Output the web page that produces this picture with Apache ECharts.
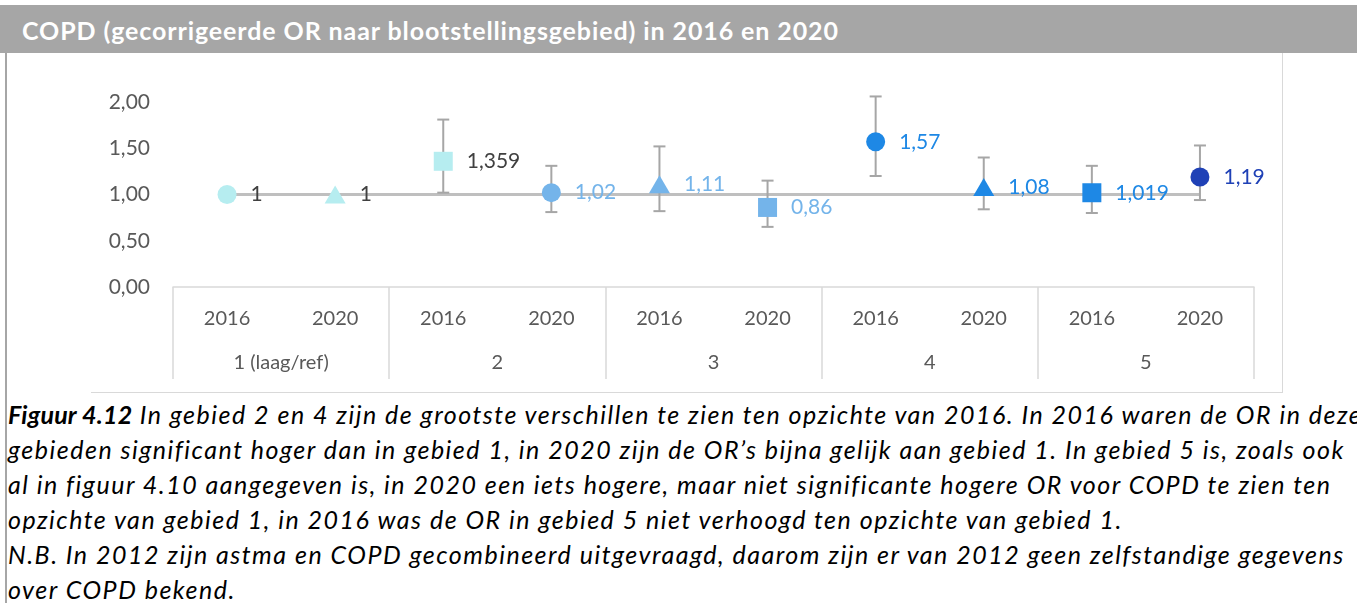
<!DOCTYPE html>
<html>
<head>
<meta charset="utf-8">
<script src="https://cdn.jsdelivr.net/npm/echarts@6/dist/echarts.min.js"></script>
<style>
  html, body { margin: 0; padding: 0; background: #ffffff; width: 1357px; height: 603px; overflow: hidden; font-family: Lato, "Open Sans", sans-serif; }
  #titlebar { position: absolute; left: 0; top: 5px; width: 1357px; height: 48px; background: #a6a6a6; }
  #title { position: absolute; left: 22px; top: 5px; height: 48px; line-height: 50px; color: #ffffff; font-weight: bold; font-size: 25px; letter-spacing: 0.9px; white-space: nowrap; }
  #leftborder { position: absolute; left: 5px; top: 53px; width: 2px; height: 550px; background: #a6a6a6; }
  #chart { position: absolute; left: 91px; top: 53px; width: 1192px; height: 340px; box-sizing: border-box; border-right: 1px solid #d9d9d9; border-bottom: 1px solid #d9d9d9; }
  #caption { position: absolute; left: 8px; top: 397px; width: 1600px; font-style: italic; font-size: 25px; letter-spacing: 1.5px; line-height: 35px; color: #000; white-space: nowrap; }
  #caption div { white-space: nowrap; }
  #caption b { letter-spacing: 0.2px; }
</style>
</head>
<body>
<div id="titlebar"></div>
<div id="title">COPD (gecorrigeerde OR naar blootstellingsgebied) in 2016 en 2020</div>
<div id="leftborder"></div>
<div id="chart"></div>
<div id="caption">
  <div><b>Figuur 4.12</b> In gebied 2 en 4 zijn de grootste verschillen te zien ten opzichte van 2016. In 2016 waren de OR in deze</div>
  <div>gebieden significant hoger dan in gebied 1, in 2020 zijn de OR’s bijna gelijk aan gebied 1. In gebied 5 is, zoals ook</div>
  <div>al in figuur 4.10 aangegeven is, in 2020 een iets hogere, maar niet significante hogere OR voor COPD te zien ten</div>
  <div>opzichte van gebied 1, in 2016 was de OR in gebied 5 niet verhoogd ten opzichte van gebied 1.</div>
  <div>N.B. In 2012 zijn astma en COPD gecombineerd uitgevraagd, daarom zijn er van 2012 geen zelfstandige gegevens</div>
  <div>over COPD bekend.</div>
</div>
<script>
// ---- data ----
const years = ['2016', '2020', '2016', '2020', '2016', '2020', '2016', '2020', '2016', '2020'];
const areas = ['1 (laag/ref)', '2', '3', '4', '5'];
const orValues = [1, 1, 1.359, 1.02, 1.11, 0.86, 1.57, 1.08, 1.019, 1.19];
const ciLow  = [null, null, 1.02, 0.81, 0.82, 0.65, 1.20, 0.84, 0.80, 0.94];
const ciHigh = [null, null, 1.81, 1.31, 1.52, 1.15, 2.06, 1.40, 1.31, 1.53];
const refLine = [1, 1, 1, 1, 1, 1, 1, 1, 1, 1];
const yTicks = [0, 0.5, 1, 1.5, 2];

// ---- styles ----
const markerShapes = ['circle', 'triangle', 'rect', 'circle', 'triangle', 'rect', 'circle', 'triangle', 'rect', 'circle'];
const markerColors = ['#b6edf0', '#b6edf0', '#b6edf0', '#74b4ea', '#74b4ea', '#74b4ea', '#1e88e5', '#1e88e5', '#1e88e5', '#1f41b6'];
const labelColors  = ['#404040', '#404040', '#404040', '#74b4ea', '#74b4ea', '#74b4ea', '#1e88e5', '#1e88e5', '#1e88e5', '#1f41b6'];
const markerSizes  = [[19, 19], [21, 18], [19, 19], [19, 19], [21, 18], [19, 19], [19, 19], [21, 18], [19, 19], [19, 19]];

const FONT = 'Lato, "Open Sans", sans-serif';
const chart = echarts.init(document.getElementById('chart'), null, { renderer: 'canvas' });

const scatterData = orValues.map((v, i) => ({
  value: [i, v],
  symbol: markerShapes[i],
  symbolSize: markerSizes[i],
  itemStyle: { color: markerColors[i], opacity: 1 },
  label: { color: labelColors[i] }
}));

const errData = [];
orValues.forEach((v, i) => { if (ciLow[i] != null) errData.push([i, ciLow[i], ciHigh[i]]); });

chart.setOption({
  animation: false,
  backgroundColor: '#ffffff',
  grid: { left: 82, right: 28, top: 49, bottom: 105, containLabel: false },
  xAxis: [
    {
      type: 'category',
      data: years,
      position: 'bottom',
      axisLine: { show: true, lineStyle: { color: '#d9d9d9', width: 1.5 } },
      axisTick: { show: false },
      axisLabel: { interval: 0, color: '#595959', fontSize: 20, fontFamily: FONT, margin: 22 },
      splitLine: { show: false }
    },
    {
      type: 'category',
      data: areas,
      position: 'bottom',
      axisLine: { show: false },
      axisTick: { show: true, length: 92, lineStyle: { color: '#d9d9d9', width: 1.5 } },
      axisLabel: { interval: 0, color: '#595959', fontSize: 20, fontFamily: FONT, margin: 66 },
      splitLine: { show: false }
    }
  ],
  yAxis: {
    type: 'value',
    min: yTicks[0],
    max: yTicks[yTicks.length - 1],
    interval: 0.5,
    axisLine: { show: false },
    axisTick: { show: false },
    splitLine: { show: false },
    axisLabel: {
      color: '#595959', fontSize: 21, fontFamily: FONT, margin: 23,
      formatter: v => v.toFixed(2).replace('.', ',')
    }
  },
  series: [
    {
      type: 'line',
      data: refLine,
      symbol: 'none',
      lineStyle: { color: '#bfbfbf', width: 3 },
      z: 1,
      silent: true
    },
    {
      type: 'custom',
      data: errData,
      z: 2,
      clip: false,
      renderItem: function (params, api) {
        const x = api.coord([api.value(0), api.value(1)])[0];
        const yLo = api.coord([api.value(0), api.value(1)])[1];
        const yHi = api.coord([api.value(0), api.value(2)])[1];
        const hw = 6;
        const style = { stroke: '#a6a6a6', lineWidth: 2 };
        return {
          type: 'group',
          children: [
            { type: 'line', shape: { x1: x, y1: yLo, x2: x, y2: yHi }, style: style },
            { type: 'line', shape: { x1: x - hw, y1: yLo, x2: x + hw, y2: yLo }, style: style },
            { type: 'line', shape: { x1: x - hw, y1: yHi, x2: x + hw, y2: yHi }, style: style }
          ]
        };
      }
    },
    {
      type: 'scatter',
      data: scatterData,
      z: 3,
      label: {
        show: true,
        position: 'right',
        distance: 14,
        fontSize: 21,
        fontFamily: FONT,
        formatter: p => String(p.value[1]).replace('.', ',')
      }
    }
  ]
});
</script>
</body>
</html>
